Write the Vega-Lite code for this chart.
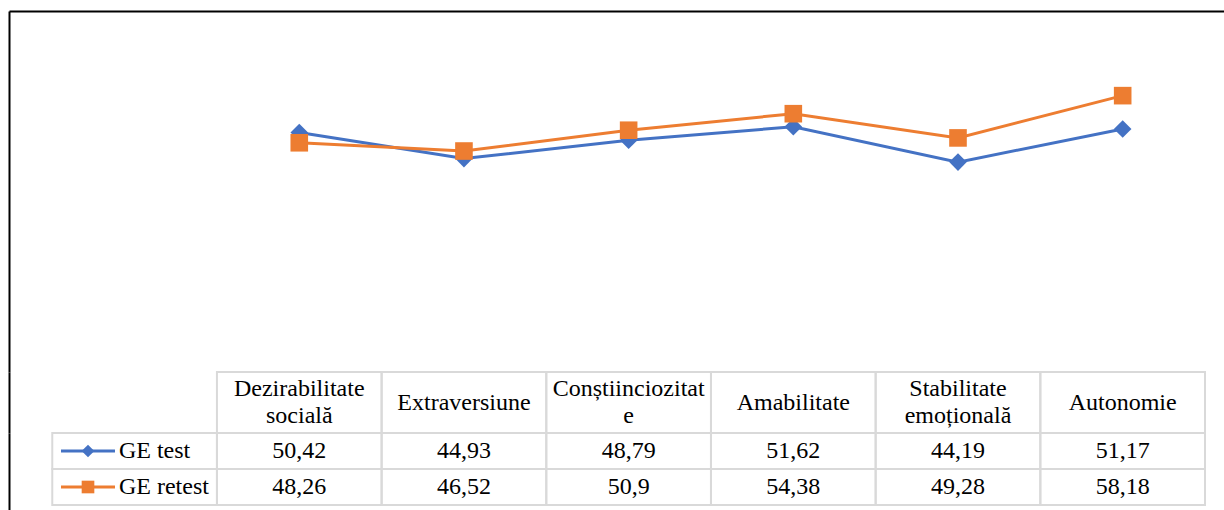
{
  "$schema": "https://vega.github.io/schema/vega-lite/v6.json",
  "padding": {"left": 9, "top": 11, "right": 0, "bottom": 0},
  "spacing": 0,
  "bounds": "flush",
  "config": {
    "view": {"stroke": null},
    "font": "Liberation Serif, Times New Roman, serif",
    "concat": {"spacing": 0},
    "locale": {"number": {"decimal": ",", "thousands": ".", "grouping": [3], "currency": ["", " lei"]}}
  },
  "datasets": {
    "scores": [
      {"cat": "Dezirabilitate socială", "series": "GE test", "value": 50.42},
      {"cat": "Extraversiune", "series": "GE test", "value": 44.93},
      {"cat": "Conștiinciozitate", "series": "GE test", "value": 48.79},
      {"cat": "Amabilitate", "series": "GE test", "value": 51.62},
      {"cat": "Stabilitate emoțională", "series": "GE test", "value": 44.19},
      {"cat": "Autonomie", "series": "GE test", "value": 51.17},
      {"cat": "Dezirabilitate socială", "series": "GE retest", "value": 48.26},
      {"cat": "Extraversiune", "series": "GE retest", "value": 46.52},
      {"cat": "Conștiinciozitate", "series": "GE retest", "value": 50.9},
      {"cat": "Amabilitate", "series": "GE retest", "value": 54.38},
      {"cat": "Stabilitate emoțională", "series": "GE retest", "value": 49.28},
      {"cat": "Autonomie", "series": "GE retest", "value": 58.18}
    ],
    "categories": [
      {"cat": "Dezirabilitate socială", "label": "Dezirabilitate\nsocială"},
      {"cat": "Extraversiune", "label": "Extraversiune"},
      {"cat": "Conștiinciozitate", "label": "Conștiinciozitat\ne"},
      {"cat": "Amabilitate", "label": "Amabilitate"},
      {"cat": "Stabilitate emoțională", "label": "Stabilitate\nemoțională"},
      {"cat": "Autonomie", "label": "Autonomie"}
    ],
    "series": [
      {"series": "GE test"},
      {"series": "GE retest"}
    ]
  },
  "vconcat": [
    {
      "width": 1215,
      "height": 361,
      "data": {"name": "scores"},
      "encoding": {
        "x": {
          "field": "cat", "type": "nominal", "sort": null,
          "scale": {"type": "band", "domain": ["legend", "Dezirabilitate socială", "Extraversiune", "Conștiinciozitate", "Amabilitate", "Stabilitate emoțională", "Autonomie"], "paddingInner": 0, "paddingOuter": 0.189, "align": 0.695},
          "axis": {"orient": "top", "title": null, "labels": false, "ticks": false, "grid": false, "domainColor": "#000000", "domainWidth": 2}
        },
        "y": {
          "field": "value", "type": "quantitative",
          "scale": {"domain": [0, 76], "zero": false, "nice": false},
          "axis": {"title": null, "labels": false, "ticks": false, "grid": false, "domainColor": "#000000", "domainWidth": 2}
        },
        "color": {"field": "series", "type": "nominal", "scale": {"domain": ["GE test", "GE retest"], "range": ["#4472C4", "#ED7D31"]}, "legend": null}
      },
      "layer": [
        {"mark": {"type": "line", "strokeWidth": 3}},
        {
          "mark": {"type": "point", "filled": true, "opacity": 1, "size": 310},
          "encoding": {
            "shape": {"field": "series", "type": "nominal", "scale": {"domain": ["GE test", "GE retest"], "range": ["diamond", "square"]}, "legend": null}
          }
        }
      ]
    },
    {
      "width": 1215,
      "height": 61,
      "data": {"name": "categories"},
      "encoding": {
        "x": {
          "field": "cat", "type": "nominal", "sort": null,
          "scale": {"type": "band", "domain": ["legend", "Dezirabilitate socială", "Extraversiune", "Conștiinciozitate", "Amabilitate", "Stabilitate emoțională", "Autonomie"], "paddingInner": 0, "paddingOuter": 0.189, "align": 0.695},
          "axis": null
        },
        "y": {
          "datum": "header", "type": "nominal",
          "scale": {"type": "band", "paddingInner": 0, "paddingOuter": 0},
          "axis": {"title": null, "labels": false, "ticks": false, "grid": false, "domainColor": "#000000", "domainWidth": 2}
        }
      },
      "layer": [
        {"mark": {"type": "rect", "filled": false, "stroke": "#d9d9d9", "strokeWidth": 2}},
        {
          "transform": [{"filter": "!test(/\\n/, datum.label)"}],
          "mark": {"type": "text", "fontSize": 24, "font": "Liberation Serif, Times New Roman, serif", "color": "#000000", "baseline": "middle", "align": "center"},
          "encoding": {"text": {"field": "label"}}
        },
        {
          "transform": [{"filter": "test(/\\n/, datum.label)"}],
          "mark": {"type": "text", "fontSize": 24, "font": "Liberation Serif, Times New Roman, serif", "color": "#000000", "lineBreak": "\n", "lineHeight": 27, "baseline": "middle", "align": "center"},
          "encoding": {
            "y": {"datum": "header", "type": "nominal", "bandPosition": 0.279},
            "text": {"field": "label"}
          }
        }
      ]
    },
    {
      "width": 1215,
      "height": 77,
      "encoding": {
        "y": {
          "field": "series", "type": "nominal", "sort": null,
          "scale": {"domain": ["GE test", "GE retest"], "paddingInner": 0, "paddingOuter": 0.0694, "align": 0},
          "axis": {"title": null, "labels": false, "ticks": false, "grid": false, "domainColor": "#000000", "domainWidth": 2}
        }
      },
      "layer": [
        {
          "data": {"name": "scores"},
          "mark": {"type": "rect", "filled": false, "stroke": "#d9d9d9", "strokeWidth": 2},
          "encoding": {
            "x": {
              "field": "cat", "type": "nominal", "sort": null,
              "scale": {"type": "band", "domain": ["legend", "Dezirabilitate socială", "Extraversiune", "Conștiinciozitate", "Amabilitate", "Stabilitate emoțională", "Autonomie"], "paddingInner": 0, "paddingOuter": 0.189, "align": 0.695},
              "axis": null
            }
          }
        },
        {
          "data": {"name": "series"},
          "mark": {"type": "rect", "filled": false, "stroke": "#d9d9d9", "strokeWidth": 2},
          "encoding": {
            "x": {"datum": "legend", "type": "nominal"}
          }
        },
        {
          "data": {"name": "scores"},
          "mark": {"type": "text", "fontSize": 24, "font": "Liberation Serif, Times New Roman, serif", "color": "#000000", "baseline": "middle", "align": "center"},
          "encoding": {
            "x": {"field": "cat", "type": "nominal", "sort": null},
            "text": {"field": "value", "type": "quantitative", "format": ".2~f"}
          }
        },
        {
          "data": {"name": "series"},
          "mark": {"type": "point", "shape": "M-1,0L1,0", "size": 2916, "filled": false, "strokeWidth": 3, "opacity": 1},
          "encoding": {
            "x": {"datum": "legend", "type": "nominal", "bandPosition": 0.217},
            "color": {"field": "series", "type": "nominal", "scale": {"domain": ["GE test", "GE retest"], "range": ["#4472C4", "#ED7D31"]}, "legend": null}
          }
        },
        {
          "data": {"name": "series"},
          "mark": {"type": "point", "filled": true, "opacity": 1, "size": 160},
          "encoding": {
            "x": {"datum": "legend", "type": "nominal", "bandPosition": 0.217},
            "color": {"field": "series", "type": "nominal", "scale": {"domain": ["GE test", "GE retest"], "range": ["#4472C4", "#ED7D31"]}, "legend": null},
            "shape": {"field": "series", "type": "nominal", "scale": {"domain": ["GE test", "GE retest"], "range": ["diamond", "square"]}, "legend": null}
          }
        },
        {
          "data": {"name": "series"},
          "mark": {"type": "text", "fontSize": 24, "font": "Liberation Serif, Times New Roman, serif", "color": "#000000", "baseline": "middle", "align": "left"},
          "encoding": {
            "x": {"datum": "legend", "type": "nominal", "bandPosition": 0.405},
            "text": {"field": "series"}
          }
        }
      ]
    }
  ]
}
